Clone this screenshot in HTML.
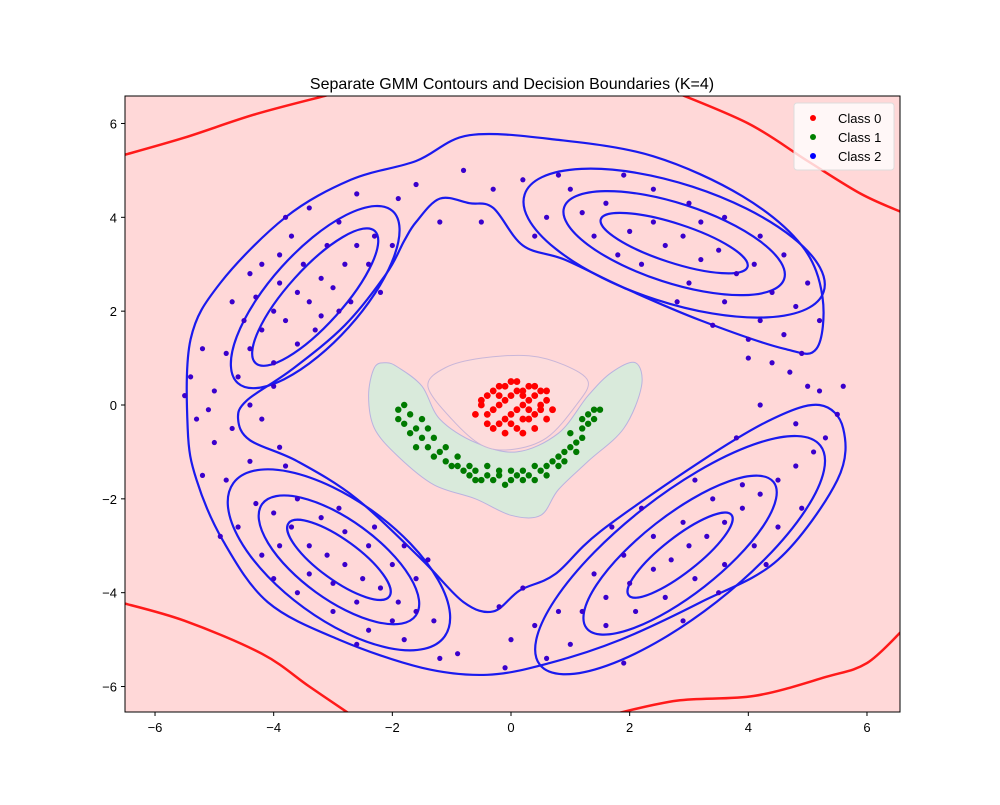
<!DOCTYPE html>
<html><head><meta charset="utf-8"><style>
body{margin:0;background:#fff;}
svg text{font-family:"Liberation Sans","DejaVu Sans",sans-serif;}
</style></head><body>
<svg id="chart" width="1000" height="800" viewBox="0 0 1000 800" xmlns="http://www.w3.org/2000/svg">
<defs><clipPath id="clip"><rect x="125" y="96" width="775" height="616"/></clipPath></defs>
<text x="512" y="89" text-anchor="middle" font-size="16">Separate GMM Contours and Decision Boundaries (K=4)</text>
<g id="plot" clip-path="url(#clip)"></g>
<rect x="125" y="96" width="775" height="616" fill="none" stroke="#000" stroke-width="1"/>
<g id="axes"></g>
<g>
<rect x="794" y="103" width="100" height="67" rx="3" fill="#fff" fill-opacity="0.8" stroke="#ddd"/>
<circle cx="813" cy="118" r="3" fill="red"/>
<text x="838" y="123" font-size="13">Class 0</text>
<circle cx="813" cy="137" r="3" fill="green"/>
<text x="838" y="142" font-size="13">Class 1</text>
<circle cx="813" cy="156" r="3" fill="blue"/>
<text x="838" y="161" font-size="13">Class 2</text>
</g>
</svg>
<script>
const xTicks=[-6,-4,-2,0,2,4,6];
const yTicks=[-6,-4,-2,0,2,4,6];
const class0=[[0.1,0.5],[-0.2,0.4],[0.3,0.4],[-0.4,0.2],[0,0.2],[0.4,0.2],[0.6,0.1],[-0.5,0],[-0.2,0],[0.2,0],[0.5,-0.1],[-0.4,-0.2],[0,-0.2],[0.3,-0.3],[-0.2,-0.4],[0.1,-0.5],[0.4,-0.5],[-0.1,0.1],[0.2,0.3],[-0.3,-0.1],[0.1,-0.1],[0.3,0.1],[0.6,-0.3],[-0.5,0.1],[0,0.5],[0.2,-0.6],[-0.3,0.3],[0.5,0.3],[-0.1,-0.3],[0.4,-0.2],[0,-0.4],[0.2,0.2],[-0.4,-0.4],[0.6,0.3],[-0.2,0.2],[0.3,-0.1],[0.1,0.3],[-0.1,-0.6],[0.5,0],[-0.3,-0.5],[0.7,-0.1],[-0.6,-0.2],[0.4,0.4],[-0.1,0.4],[0.2,-0.3]];
const class1=[[-1.9,-0.1],[-1.8,0],[-1.7,-0.2],[-1.8,-0.4],[-1.6,-0.5],[-1.5,-0.7],[-1.6,-0.9],[-1.4,-0.9],[-1.3,-1.1],[-1.2,-1.0],[-1.1,-1.2],[-1.0,-1.3],[-0.9,-1.3],[-0.8,-1.4],[-0.7,-1.5],[-0.6,-1.4],[-0.5,-1.6],[-0.4,-1.5],[-0.3,-1.6],[-0.2,-1.5],[-0.1,-1.7],[0,-1.6],[0.1,-1.5],[0.2,-1.6],[0.3,-1.5],[0.4,-1.6],[0.5,-1.4],[0.6,-1.3],[0.7,-1.2],[0.8,-1.1],[0.9,-1.0],[1.0,-0.9],[1.1,-0.8],[1.0,-0.6],[1.2,-0.5],[1.3,-0.4],[1.2,-0.7],[1.4,-0.3],[1.5,-0.1],[1.4,-0.1],[1.3,-0.2],[-1.5,-0.3],[-1.3,-0.7],[-1.1,-0.9],[-0.9,-1.1],[-0.7,-1.3],[-0.4,-1.3],[0.2,-1.4],[0.6,-1.5],[0.8,-1.3],[1.1,-1.0],[-1.9,-0.3],[-0.2,-1.4],[0.4,-1.3],[-1.7,-0.6],[-1.4,-0.5],[0.9,-1.2],[1.2,-0.3],[-0.6,-1.6],[0,-1.4]];
const class2=[[-4.4,1.2],[-4.2,1.6],[-4.0,2.0],[-3.8,1.8],[-3.6,2.4],[-3.4,2.2],[-3.2,2.7],[-3.0,2.5],[-2.8,3.0],[-2.6,3.4],[-3.9,2.6],[-4.3,2.3],[-3.5,3.0],[-3.1,3.4],[-2.4,3.0],[-2.9,2.0],[-3.3,1.6],[-4.6,0.6],[-4.8,1.1],[-4.2,3.0],[-3.7,3.6],[-2.9,3.9],[-2.3,3.6],[-2.7,2.2],[-3.6,1.3],[-4.0,0.9],[-5.0,0.3],[-5.2,1.2],[-4.7,2.2],[-4.4,2.8],[-3.4,4.2],[-2.6,4.5],[-2.0,3.4],[-3.9,3.2],[-3.2,1.9],[-4.5,1.8],[-5.4,0.6],[-2.2,2.4],[-1.9,4.4],[-3.8,4.0],
[1.2,4.1],[1.6,4.3],[2.0,3.7],[2.4,3.9],[2.6,3.4],[2.9,3.6],[3.2,3.1],[3.5,3.3],[3.8,2.8],[4.1,3.0],[4.4,2.4],[4.8,2.1],[5.2,1.8],[1.0,4.6],[1.8,3.2],[2.2,3.0],[3.0,2.6],[3.6,2.2],[4.2,1.8],[4.6,1.5],[2.4,4.6],[3.0,4.3],[3.6,4.0],[4.2,3.6],[4.6,3.2],[0.6,4.0],[1.4,3.6],[2.8,2.2],[3.4,1.7],[4.0,1.4],[0.2,4.8],[-0.3,4.6],[-0.8,5.0],[-1.6,4.7],[0.8,4.9],[3.2,3.9],[1.9,4.9],[5.0,2.6],[4.9,1.1],[0.4,3.6],[-0.5,3.9],[-1.2,3.9],
[-4.3,-2.1],[-4.0,-2.3],[-3.7,-2.6],[-3.4,-3.0],[-3.1,-3.2],[-2.8,-3.4],[-2.5,-3.7],[-2.2,-3.9],[-1.9,-4.2],[-1.6,-4.4],[-3.9,-3.0],[-3.4,-3.6],[-3.0,-3.8],[-2.6,-4.2],[-2.0,-4.6],[-3.2,-2.4],[-2.8,-2.7],[-2.4,-3.0],[-2.0,-3.4],[-1.6,-3.7],[-4.6,-2.6],[-4.2,-3.2],[-3.6,-4.0],[-3.0,-4.4],[-2.4,-4.8],[-1.8,-5.0],[-3.6,-2.0],[-2.9,-2.2],[-2.3,-2.6],[-1.8,-3.0],[-4.8,-1.6],[-4.4,-1.2],[-5.0,-0.8],[-5.2,-1.5],[-4.9,-2.8],[-1.3,-4.6],[-1.2,-5.4],[-0.9,-5.3],[-1.4,-3.3],[-3.8,-1.3],[-4.0,-3.7],[-2.6,-5.1],
[1.2,-4.4],[1.6,-4.1],[2.0,-3.8],[2.4,-3.5],[2.7,-3.3],[3.0,-3.0],[3.3,-2.8],[3.6,-2.5],[3.9,-2.2],[4.2,-1.9],[4.5,-1.6],[4.8,-1.3],[5.1,-1.0],[1.4,-3.6],[1.9,-3.2],[2.4,-2.8],[2.9,-2.5],[3.4,-2.0],[3.9,-1.7],[1.6,-4.7],[2.1,-4.4],[2.6,-4.1],[3.1,-3.7],[3.6,-3.4],[4.1,-3.0],[4.5,-2.6],[4.9,-2.2],[0.8,-4.4],[0.4,-4.7],[0.0,-5.0],[-0.2,-4.3],[0.2,-3.9],[1.0,-5.1],[2.9,-4.6],[3.5,-4.0],[4.3,-3.4],[5.3,-0.7],[5.5,-0.2],[5.0,0.4],[4.7,0.7],[4.2,0.0],[3.8,-0.7],[1.7,-2.6],[2.2,-2.2],[3.1,-1.6],[0.6,-5.4],[-0.1,-5.6],[1.9,-5.5],
[-5.5,0.2],[-5.3,-0.3],[-4.7,-0.5],[-4.2,-0.3],[-4.0,0.4],[-3.9,-0.9],[-4.4,0.0],[-5.1,-0.1],[4.4,0.9],[4.0,1.0],[5.6,0.4],[5.2,0.3],[4.8,-0.4]];
// GMM components: center (data), angle (deg, screen), contour semi-axes in data-x units
const compCenters=[[-3.3,2.3],[2.75,3.45],[-2.9,-3.3],[2.85,-3.2]];
const compAngles=[-48,18,36,-38];
const compAxes=[[[1.5,0.47],[1.95,0.76]],[[1.3,0.33],[1.95,0.67],[2.65,1.0]],[[1.05,0.34],[1.6,0.67],[2.2,1.0]],[[1.1,0.3],[2.0,0.67],[3.0,1.0]]];
// outer merged contour (data coords)
const outerContour=[[-5.45,-0.5],[-5.4,1.4],[-4.9,2.6],[-3.8,4.0],[-2.7,4.8],[-1.6,5.2],[-0.7,5.75],[0.8,5.65],[2.4,5.3],[3.9,4.45],[4.9,3.4],[5.25,2.3],[5.15,1.2],[4.6,1.2],[3.2,1.8],[1.9,2.5],[0.9,3.1],[0.2,3.4],[-0.3,4.2],[-0.7,4.3],[-1.2,4.4],[-1.6,3.9],[-1.8,3.5],[-2.1,2.8],[-2.8,1.7],[-3.7,0.75],[-4.45,0.1],[-4.6,-0.3],[-4.4,-0.75],[-3.6,-1.2],[-2.6,-2.0],[-1.5,-3.3],[-0.8,-4.2],[-0.3,-4.4],[0.15,-3.95],[0.75,-3.6],[1.5,-2.7],[3.2,-1.2],[4.4,-0.3],[5.2,0.0],[5.6,-0.5],[5.5,-1.6],[4.5,-3.3],[3.2,-4.2],[1.85,-5.0],[0.65,-5.5],[-0.4,-5.75],[-1.5,-5.6],[-2.9,-5.0],[-4.1,-4.2],[-4.85,-2.9],[-5.3,-1.6]];
const redBoundaries=[[[-6.6,5.3],[-5.5,5.7],[-4.3,6.2],[-3.1,6.6]],[[2.7,6.7],[4.0,6.0],[5.0,5.2],[5.9,4.5],[6.6,4.1]],[[-6.6,-4.2],[-5.5,-4.6],[-4.2,-5.3],[-3.4,-6.0],[-2.7,-6.6]],[[1.7,-6.6],[2.8,-6.3],[4.1,-6.2],[5.3,-5.8],[6.0,-5.5],[6.6,-4.8]]];
const greenRegion=[[-2.3,0.8],[-2.1,0.9],[-1.9,0.8],[-1.5,0.4],[-1.2,-0.3],[-0.6,-0.8],[0.1,-1.0],[0.8,-0.6],[1.3,0.2],[1.7,0.7],[2.1,0.9],[2.2,0.4],[1.9,-0.5],[1.3,-1.2],[0.8,-1.8],[0.5,-2.35],[0.0,-2.35],[-0.6,-2.0],[-1.3,-1.7],[-1.9,-1.1],[-2.3,-0.5],[-2.4,0.2]];
const centerRegion=[[-1.4,0.4],[-1.1,0.8],[-0.5,1.0],[0.3,1.05],[0.9,0.85],[1.3,0.5],[1.1,0.0],[0.6,-0.7],[0.0,-0.95],[-0.5,-0.85],[-1.0,-0.3]];

const X=v=>511+v*59.33, Y=v=>405-v*46.92;
const NS='http://www.w3.org/2000/svg';
const plot=document.getElementById('plot'), axes=document.getElementById('axes');
function mk(tag,attrs,parent){const e=document.createElementNS(NS,tag);for(const k in attrs)e.setAttribute(k,attrs[k]);parent.appendChild(e);return e;}
function smooth(pts,closed){
  const p=pts.map(q=>[X(q[0]),Y(q[1])]);const n=p.length;let d='M'+p[0][0].toFixed(1)+','+p[0][1].toFixed(1);
  const g=i=>closed?p[(i+n)%n]:p[Math.max(0,Math.min(n-1,i))];
  const last=closed?n:n-1;
  for(let i=0;i<last;i++){const p0=g(i-1),p1=g(i),p2=g(i+1),p3=g(i+2);
    d+=' C'+(p1[0]+(p2[0]-p0[0])/6).toFixed(1)+','+(p1[1]+(p2[1]-p0[1])/6).toFixed(1)+' '+(p2[0]-(p3[0]-p1[0])/6).toFixed(1)+','+(p2[1]-(p3[1]-p1[1])/6).toFixed(1)+' '+p2[0].toFixed(1)+','+p2[1].toFixed(1);}
  return d+(closed?'Z':'');
}
let e;
e=mk('rect',{x:125,y:96,width:775,height:616,fill:'#ffd8d8'},plot);


e=mk('path',{d:smooth(greenRegion,true),fill:'#d9eadb',stroke:'#b9b3df','stroke-width':1},plot);


e=mk('path',{d:smooth(centerRegion,true),fill:'#fddcdc',stroke:'#c9b6d8','stroke-width':1},plot);


redBoundaries.forEach(b=>{
  e=mk('path',{d:smooth(b,false),fill:'none',stroke:'#ff1a1a','stroke-width':2.5},plot);
  
  
});
e=mk('path',{d:smooth(outerContour,true),fill:'none',stroke:'#1a1aee','stroke-width':2.2},plot);


compCenters.forEach((c,i)=>{
  compAxes[i].forEach(a=>{
    e=mk('ellipse',{cx:X(c[0]),cy:Y(c[1]),rx:a[0]*59.33,ry:a[1]*59.33,transform:'rotate('+compAngles[i]+' '+X(c[0])+' '+Y(c[1])+')',fill:'none',stroke:'#1a1aee','stroke-width':2.2},plot);
    
    
  });
});
class2.forEach(p=>{e=mk('circle',{cx:X(p[0]),cy:Y(p[1]),r:2.6,fill:'#3a00cc'},plot);
  
  });
class1.forEach(p=>{e=mk('circle',{cx:X(p[0]),cy:Y(p[1]),r:3.2,fill:'#007a00'},plot);
  
  });
class0.forEach(p=>{e=mk('circle',{cx:X(p[0]),cy:Y(p[1]),r:3.4,fill:'#ff0000'},plot);
  
  });
xTicks.forEach(t=>{
  mk('line',{x1:X(t),x2:X(t),y1:712,y2:716,stroke:'#000'},axes);
  e=mk('text',{x:X(t),y:732,'text-anchor':'middle','font-size':13},axes);e.textContent=(t<0?'\u2212':'')+Math.abs(t);
  
  
});
yTicks.forEach(t=>{
  mk('line',{x1:121,x2:125,y1:Y(t),y2:Y(t),stroke:'#000'},axes);
  e=mk('text',{x:117,y:Y(t)+5,'text-anchor':'end','font-size':13},axes);e.textContent=(t<0?'\u2212':'')+Math.abs(t);
  
  
});
</script>
</body></html>
